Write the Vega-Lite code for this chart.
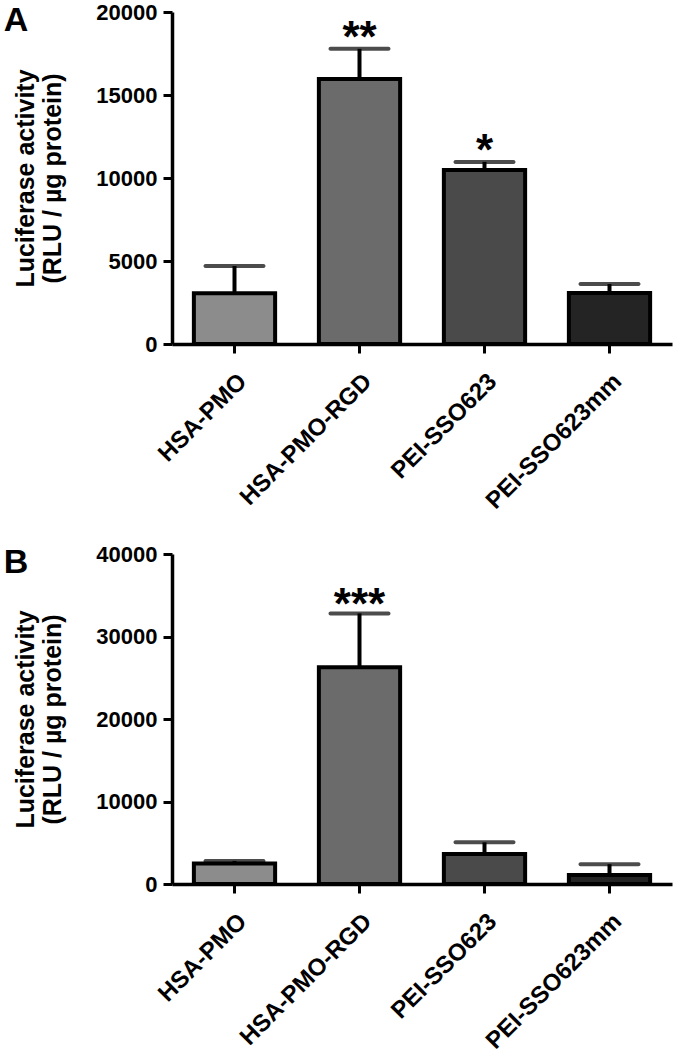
{
  "$schema": "https://vega.github.io/schema/vega-lite/v6.json",
  "background": "white",
  "padding": {"left": 3, "top": 1, "right": 5, "bottom": 0},
  "spacing": 29,
  "config": {
    "font": "Liberation Sans",
    "view": {"stroke": null},
    "axis": {
      "grid": false,
      "domainColor": "black",
      "domainWidth": 3.5,
      "tickColor": "black",
      "tickWidth": 3,
      "tickSize": 9,
      "labelFont": "Liberation Sans",
      "labelFontWeight": "bold",
      "labelColor": "black",
      "labelFontSize": 22,
      "labelLimit": 400,
      "titleFont": "Liberation Sans",
      "titleFontWeight": "bold",
      "titleFontSize": 25,
      "titleColor": "black"
    },
    "title": {"font": "Liberation Sans", "fontWeight": "bold", "fontSize": 34, "color": "black"}
  },
  "vconcat": [
    {
      "width": 500,
      "height": 332,
      "title": {"text": "A", "anchor": "start", "frame": "bounds", "offset": -37, "dx": -10},
      "data": {"values": [
        {"group": "HSA-PMO", "mean": 3050, "upper": 4700, "sig": ""},
        {"group": "HSA-PMO-RGD", "mean": 15960, "upper": 17780, "sig": "**"},
        {"group": "PEI-SSO623", "mean": 10480, "upper": 10970, "sig": "*"},
        {"group": "PEI-SSO623mm", "mean": 3070, "upper": 3610, "sig": ""}
      ]},
      "encoding": {
        "x": {"field": "group", "type": "nominal", "sort": null,
          "scale": {"paddingInner": 0.35, "paddingOuter": 0.175},
          "axis": {"title": null, "labelAngle": -45, "labelPadding": 16, "labelFontSize": 24}}
      },
      "layer": [
        {"mark": {"type": "rule", "strokeWidth": 4, "color": "black"},
          "encoding": {"y": {"field": "mean", "type": "quantitative"}, "y2": {"field": "upper"}}},
        {"mark": {"type": "bar", "stroke": "black", "strokeWidth": 4},
          "encoding": {
            "y": {"field": "mean", "type": "quantitative",
              "scale": {"domain": [0, 20000], "nice": false},
              "axis": {"values": [0, 5000, 10000, 15000, 20000], "format": "d", "labelPadding": 6,
                "title": ["Luciferase activity", "(RLU / µg protein)"], "titleLineHeight": 27, "titlePadding": 30}},
            "color": {"field": "group", "type": "nominal", "sort": null,
              "scale": {"range": ["#8c8c8c", "#6b6b6b", "#4a4a4a", "#242424"]}, "legend": null}
          }},
        {"mark": {"type": "tick", "thickness": 4, "size": 62, "color": "black", "cornerRadius": 2},
          "encoding": {"y": {"field": "upper", "type": "quantitative"}}},
        {"mark": {"type": "text", "fontSize": 44, "fontWeight": "bold", "baseline": "alphabetic", "dy": 3, "color": "black"},
          "encoding": {"y": {"field": "upper", "type": "quantitative"}, "text": {"field": "sig"}}}
      ]
    },
    {
      "width": 500,
      "height": 330,
      "title": {"text": "B", "anchor": "start", "frame": "bounds", "offset": -37, "dx": -10},
      "data": {"values": [
        {"group": "HSA-PMO", "mean": 2500, "upper": 2800, "sig": ""},
        {"group": "HSA-PMO-RGD", "mean": 26260, "upper": 32800, "sig": "***"},
        {"group": "PEI-SSO623", "mean": 3650, "upper": 5050, "sig": ""},
        {"group": "PEI-SSO623mm", "mean": 1100, "upper": 2400, "sig": ""}
      ]},
      "encoding": {
        "x": {"field": "group", "type": "nominal", "sort": null,
          "scale": {"paddingInner": 0.35, "paddingOuter": 0.175},
          "axis": {"title": null, "labelAngle": -45, "labelPadding": 16, "labelFontSize": 24}}
      },
      "layer": [
        {"mark": {"type": "rule", "strokeWidth": 4, "color": "black"},
          "encoding": {"y": {"field": "mean", "type": "quantitative"}, "y2": {"field": "upper"}}},
        {"mark": {"type": "bar", "stroke": "black", "strokeWidth": 4},
          "encoding": {
            "y": {"field": "mean", "type": "quantitative",
              "scale": {"domain": [0, 40000], "nice": false},
              "axis": {"values": [0, 10000, 20000, 30000, 40000], "format": "d", "labelPadding": 6,
                "title": ["Luciferase activity", "(RLU / µg protein)"], "titleLineHeight": 27, "titlePadding": 30}},
            "color": {"field": "group", "type": "nominal", "sort": null,
              "scale": {"range": ["#8c8c8c", "#6b6b6b", "#4a4a4a", "#242424"]}, "legend": null}
          }},
        {"mark": {"type": "tick", "thickness": 4, "size": 62, "color": "black", "cornerRadius": 2},
          "encoding": {"y": {"field": "upper", "type": "quantitative"}}},
        {"mark": {"type": "text", "fontSize": 44, "fontWeight": "bold", "baseline": "alphabetic", "dy": 6, "color": "black"},
          "encoding": {"y": {"field": "upper", "type": "quantitative"}, "text": {"field": "sig"}}}
      ]
    }
  ]
}
